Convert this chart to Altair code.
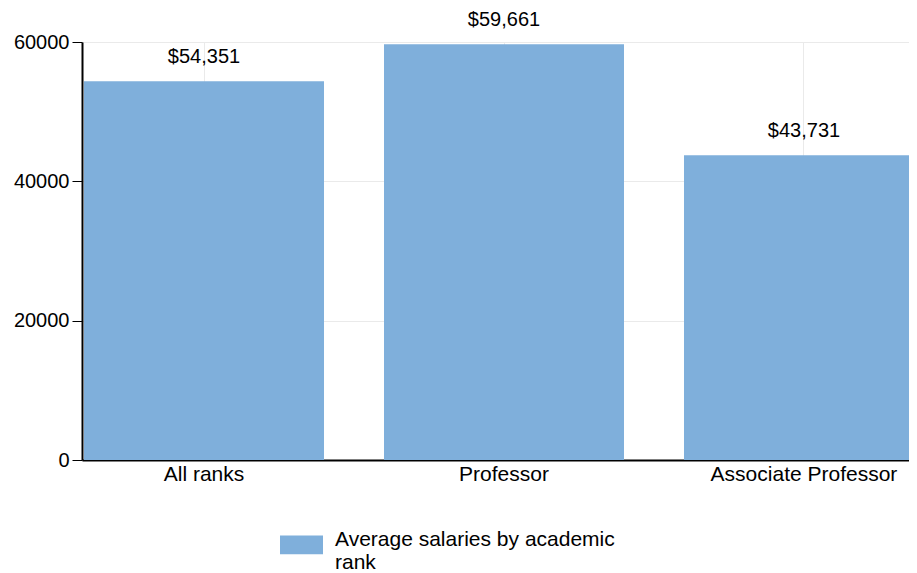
import altair as alt
import pandas as pd

CATEGORIES = ["All ranks", "Professor", "Associate Professor"]
SALARIES = [54351, 59661, 43731]
SERIES = "Average salaries by academic rank"
Y_TICKS = [0, 20000, 40000, 60000]

BAR_COLOR = "#7FAFDB"
FONT = "Liberation Sans"

df = pd.DataFrame({"rank": CATEGORIES, "salary": SALARIES, "series": [SERIES] * len(CATEGORIES)})

x_enc = alt.X(
    "rank:N",
    sort=CATEGORIES,
    title=None,
    scale=alt.Scale(range=[0, 844], paddingInner=0.2, paddingOuter=0.0067),
    axis=alt.Axis(
        labelAngle=0, ticks=False, grid=True, gridColor="#EAEAEA",
        domainColor="#000000", domainWidth=2, labelPadding=3,
        labelFontSize=21, labelColor="#000000", labelLimit=400,
    ),
)
y_enc = alt.Y(
    "salary:Q",
    title=None,
    scale=alt.Scale(domain=[0, 60000], nice=False),
    axis=alt.Axis(
        values=Y_TICKS, format="d", grid=True, gridColor="#EAEAEA",
        domainColor="#000000", domainWidth=2, tickColor="#000000",
        tickSize=10, labelPadding=3, labelFontSize=20, labelColor="#000000",
    ),
)

bars = alt.Chart(df).mark_bar(clip=True).encode(
    x=x_enc,
    y=y_enc,
    color=alt.Color(
        "series:N",
        scale=alt.Scale(range=[BAR_COLOR]),
        legend=alt.Legend(
            title=None, orient="none", legendX=198, legendY=476,
            symbolType="M-1,-0.19L1,-0.19L1,0.69L-1,0.69Z",
            symbolSize=1849, symbolStrokeWidth=0, symbolOpacity=1,
            labelFontSize=21, labelColor="#000000", labelLimit=0,
            labelOffset=12, padding=0,
            labelExpr="[substring(datum.label, 0, lastindexof(datum.label, ' ')), substring(datum.label, lastindexof(datum.label, ' ') + 1)]",
        ),
    ),
)

labels = alt.Chart(df).mark_text(
    baseline="alphabetic", dy=-18, fontSize=20, color="#000000"
).encode(
    x=alt.X("rank:N", sort=CATEGORIES),
    y=alt.Y("salary:Q"),
    text=alt.Text("salary:Q", format="$,.0f"),
)

chart = alt.layer(bars, labels).properties(
    width=827, height=418,
    autosize=alt.AutoSizeParams(type="none"),
    padding={"left": 74, "top": 34, "right": 0, "bottom": 113},
).configure(font=FONT).configure_view(stroke=None)

chart.save("out.html", embed_options={"renderer": "svg", "actions": False})
